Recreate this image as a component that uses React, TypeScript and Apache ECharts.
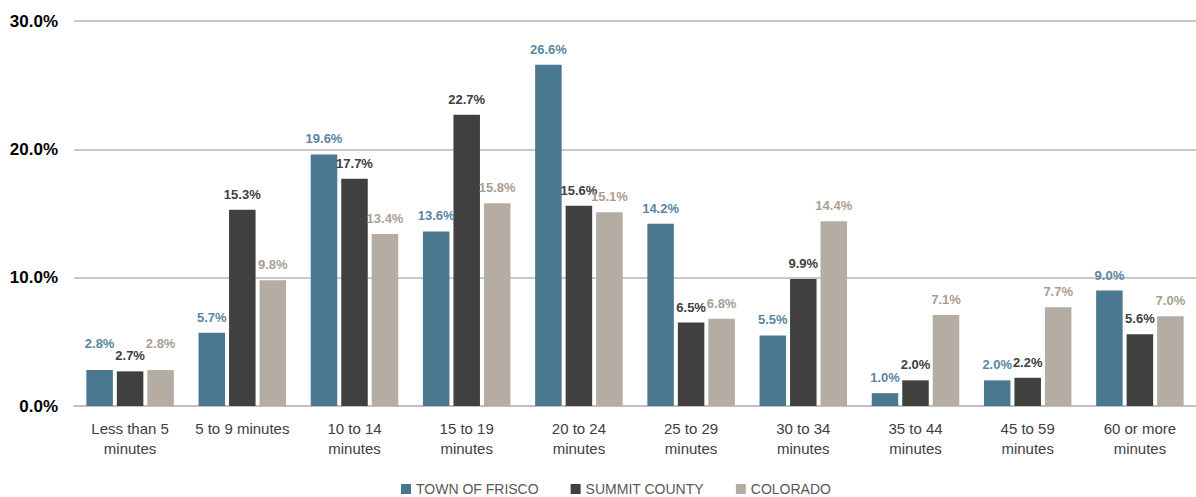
import React, { useEffect, useRef } from "react";
import * as echarts from "echarts";

const categories = [
  "Less than 5\nminutes",
  "5 to 9 minutes",
  "10 to 14\nminutes",
  "15 to 19\nminutes",
  "20 to 24\nminutes",
  "25 to 29\nminutes",
  "30 to 34\nminutes",
  "35 to 44\nminutes",
  "45 to 59\nminutes",
  "60 or more\nminutes",
];
const frisco = [2.8, 5.7, 19.6, 13.6, 26.6, 14.2, 5.5, 1.0, 2.0, 9.0];
const summit = [2.7, 15.3, 17.7, 22.7, 15.6, 6.5, 9.9, 2.0, 2.2, 5.6];
const colorado = [2.8, 9.8, 13.4, 15.8, 15.1, 6.8, 14.4, 7.1, 7.7, 7.0];
const seriesNames = ["TOWN OF FRISCO", "SUMMIT COUNTY", "COLORADO"];
const colors = ["#4a7891", "#404040", "#b5aca4"];
const labelColors = ["#5a86a2", "#404040", "#a99e95"];
// indices of labels lifted to avoid overlap (first category)
const liftedLabels: Record<number, number[]> = { 0: [0], 1: [], 2: [0] };

const FONT = "'Liberation Sans', Arial, sans-serif";

export default function App() {
  const ref = useRef<HTMLDivElement>(null);
  useEffect(() => {
    document.body.style.margin = "0";
    const chart = echarts.init(ref.current!, null, { renderer: "svg" });
    const data = [frisco, summit, colorado];
    chart.setOption({
      animation: false,
      textStyle: { fontFamily: FONT },
      grid: { left: 74, right: 0, top: 21, bottom: 91 },
      legend: {
        top: 477,
        left: 396,
        itemWidth: 10,
        itemHeight: 10,
        itemGap: 32,
        icon: "rect",
        textStyle: { color: "#595959", fontSize: 14, fontFamily: FONT },
        data: seriesNames,
      },
      xAxis: {
        type: "category",
        data: categories,
        axisTick: { show: false },
        axisLine: { lineStyle: { color: "#bfbfbf", width: 2 } },
        axisLabel: {
          color: "#404040",
          fontSize: 15,
          lineHeight: 20,
          margin: 12,
          interval: 0,
          fontFamily: FONT,
        },
      },
      yAxis: {
        type: "value",
        min: 0,
        max: 30,
        interval: 10,
        axisLabel: {
          formatter: (v: number) => v.toFixed(1) + "%",
          color: "#000",
          fontWeight: "bold",
          fontSize: 17,
          margin: 16,
          fontFamily: FONT,
        },
        splitLine: { lineStyle: { color: "#c8c8c8", width: 2 } },
        axisLine: { show: false },
        axisTick: { show: false },
      },
      series: seriesNames.map((name, i) => ({
        name,
        type: "bar",
        data: data[i].map((v, j) =>
          liftedLabels[i].includes(j)
            ? { value: v, label: { offset: [0, -11] } }
            : v
        ),
        barCategoryGap: "22%",
        barGap: "15%",
        itemStyle: { color: colors[i] },
        label: {
          show: true,
          position: "top",
          distance: 9,
          formatter: (p: any) => Number(p.value).toFixed(1) + "%",
          color: labelColors[i],
          fontWeight: "bold",
          fontSize: 13,
          fontFamily: FONT,
        },
      })),
    });
    return () => chart.dispose();
  }, []);
  return <div ref={ref} style={{ width: 1196, height: 497 }} />;
}
